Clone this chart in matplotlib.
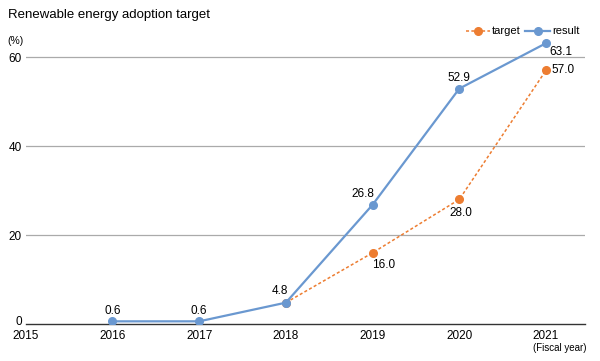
import matplotlib.pyplot as plt
from matplotlib import font_manager

names = {f.name for f in font_manager.fontManager.ttflist}
fam = 'Liberation Sans Narrow' if 'Liberation Sans Narrow' in names else 'Liberation Sans'
plt.rcParams['font.family'] = [fam, 'DejaVu Sans']

years = [2016, 2017, 2018, 2019, 2020, 2021]
result = [0.6, 0.6, 4.8, 26.8, 52.9, 63.1]
target_years = [2018, 2019, 2020, 2021]
target = [4.8, 16.0, 28.0, 57.0]
tick_years = [2015, 2016, 2017, 2018, 2019, 2020, 2021]
y_ticks = [0, 20, 40, 60]

blue = '#6a98d0'
orange = '#ed7d31'

fig = plt.figure(figsize=(6, 3.61), dpi=100)
ax = fig.add_axes([0.043, 0.1025, 0.932, 0.8135])

ax.plot(target_years, target, color=orange, ls=(0, (2, 1.5)), lw=1.1,
        marker='o', ms=5.5, label='target', zorder=3)
ax.plot(years, result, color=blue, lw=1.6, marker='o', ms=5.5,
        label='result', zorder=4)

# value labels (offsets in points)
res_off = [(0, 3), (0, 3), (-4, 4), (-7, 3.5), (0, 3.5), (11, -6)]
for x, y, off in zip(years, result, res_off):
    ax.annotate(f'{y:.1f}', (x, y), xytext=off, textcoords='offset points',
                ha='center', va='bottom' if off[1] > 0 else 'center', fontsize=8.5)
tgt_off = [None, (8, -9), (1, -10), (12, 0)]
for x, y, off in zip(target_years, target, tgt_off):
    if off is None:
        continue
    ax.annotate(f'{y:.1f}', (x, y), xytext=off, textcoords='offset points',
                ha='center', va='center', fontsize=8.5)

ax.set_xlim(2015, 2021.45)
ax.set_ylim(0, 66)
ax.set_yticks(y_ticks)
ax.set_yticklabels([''] + [str(v) for v in y_ticks[1:]])
ax.set_xticks(tick_years)
ax.tick_params(length=0, labelsize=8.5)
ax.tick_params(axis='y', pad=3)
ax.tick_params(axis='x', pad=4)
for s in ['top', 'right', 'left']:
    ax.spines[s].set_visible(False)
ax.spines['bottom'].set_color('#333333')
ax.spines['bottom'].set_linewidth(1.0)
for v in y_ticks[1:]:
    ax.axhline(v, color='#aaaaaa', lw=0.9, zorder=1)
# the "0" label sits a touch above the axis so it clears "2015"
ax.annotate('0', (tick_years[0], 0), xytext=(-2.3, 1.5), textcoords='offset points',
            ha='right', va='center', fontsize=8.5, annotation_clip=False)

fig.text(0.013, 0.958, 'Renewable energy adoption target', fontsize=9.5, va='center')
fig.text(0.013, 0.886, '(%)', fontsize=7.5, va='center')
fig.text(0.933, 0.037, '(Fiscal year)', fontsize=7, va='center', ha='center')

ax.legend(loc='center right', bbox_to_anchor=(0.975, 0.913), bbox_transform=fig.transFigure,
          ncol=2, frameon=False, fontsize=8, handlelength=2.2, handletextpad=0.2,
          columnspacing=0.4, borderpad=0)

fig.savefig('out.png', dpi=100)
